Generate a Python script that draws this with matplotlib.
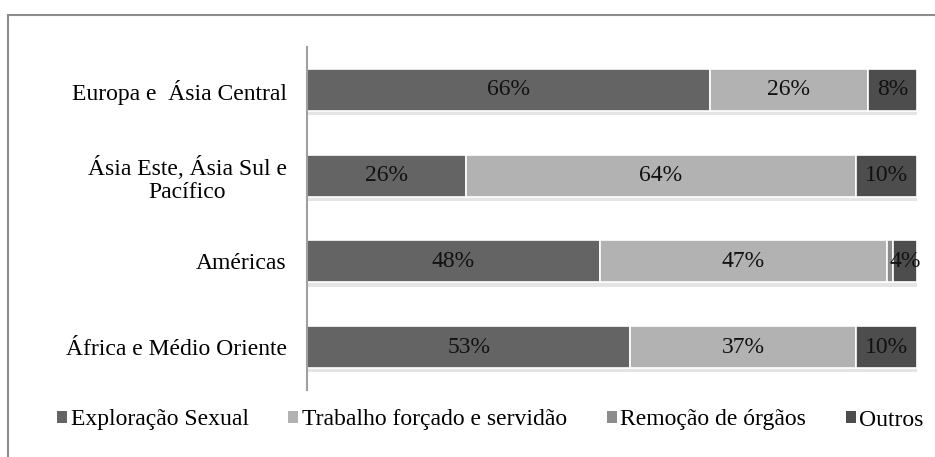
import matplotlib
matplotlib.use("Agg")
import matplotlib.pyplot as plt
import matplotlib.patheffects as pe
from matplotlib.patches import Rectangle, Patch
import numpy as np

categories = ["Europa e  Ásia Central", "Ásia Este, Ásia Sul e\nPacífico", "Américas", "África e Médio Oriente"]
series_names = ["Exploração Sexual", "Trabalho forçado e servidão", "Remoção de órgãos", "Outros"]
exploracao = [66, 26, 48, 53]
trabalho = [26, 64, 47, 37]
remocao = [0, 0, 1, 0]
outros = [8, 10, 4, 10]
series = [exploracao, trabalho, remocao, outros]
colors = ["#646464", "#b2b2b2", "#8c8c8c", "#4d4d4d"]
show_label = [True, True, False, True]

FS = 17
plt.rcParams['font.family'] = ['Liberation Serif', 'DejaVu Serif']
fig = plt.figure(figsize=(9.35, 4.57), dpi=100)
ax = fig.add_axes([307/935, 1-390/457, (917-307)/935, (390-47)/457])

y = np.arange(len(categories))
left = np.zeros(len(categories))
shadow = [pe.SimplePatchShadow(offset=(1, -3), shadow_rgbFace='#000000', alpha=0.10), pe.Normal()]
for vals, col, name, lab in zip(series, colors, series_names, show_label):
    vals = np.array(vals, dtype=float)
    bars = ax.barh(y, vals, left=left, height=0.49, color=col, edgecolor='white',
                   linewidth=1.2, label=name)
    for b in bars:
        b.set_path_effects(shadow)
    if lab:
        ax.bar_label(bars, labels=[f"{int(v)}%" if v > 0 else "" for v in vals],
                     label_type='center', fontsize=FS, color='#111111')
    left += vals

ax.set_xlim(0, 100)
ax.set_ylim(3.5, -0.5)
ax.set_yticks(y)
ax.set_yticklabels(categories, fontsize=FS, linespacing=1.15)
for t in ax.get_yticklabels():
    t.set_multialignment('center')
ax.tick_params(axis='y', length=0, pad=14.5)
ax.set_xticks([])
for s in ['top', 'right', 'bottom']:
    ax.spines[s].set_visible(False)
ax.spines['left'].set_color('#a0a0a0')
ax.spines['left'].set_linewidth(1.5)

handles = [Patch(facecolor=c, edgecolor='none') for c in colors]
fig.legend(handles, series_names, loc='center', bbox_to_anchor=(0.5245, 1-420/457), ncol=4,
           frameon=False, fontsize=FS, handlelength=0.42, handleheight=0.42,
           handletextpad=0.15, columnspacing=1.68, borderpad=0, borderaxespad=0)

fig.patches.append(Rectangle((8/935, -0.1), 1.2, (457-15)/457 + 0.1, transform=fig.transFigure,
                             fill=False, edgecolor='#8c8c8c', linewidth=1.5))

fig.savefig("out.png", dpi=100)
